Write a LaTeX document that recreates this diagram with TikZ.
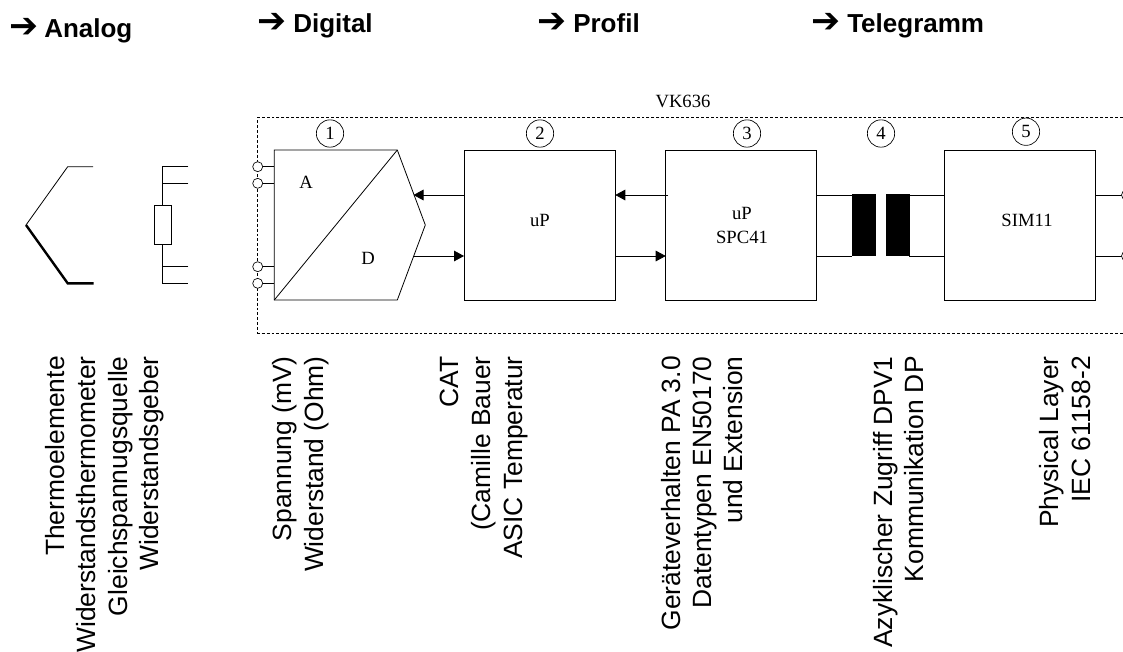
\documentclass[tikz,border=0pt]{standalone}
\usepackage{fontspec}
\setmainfont{Liberation Serif}
\newfontfamily\arialf{Liberation Sans}
\newfontfamily\arrowf{DejaVu Sans}
\usetikzlibrary{arrows.meta}
\tikzset{
 conn/.style={line width=0.6pt},
 blockbox/.style={draw,line width=0.6pt,minimum width=151*0.75pt,minimum height=150*0.75pt,inner sep=0pt},
 numc/.style={draw,circle,line width=0.5pt,minimum size=20.5pt,inner sep=0pt,font=\fontsize{14}{16}\selectfont},
 term/.style={draw,circle,fill=white,line width=0.5pt,minimum size=7.5pt,inner sep=0pt},
 head/.style={anchor=base west,inner sep=0pt,font=\arialf\bfseries\fontsize{19.5}{22}\selectfont},
 harrow/.style={anchor=base west,inner sep=0pt,font=\arrowf\bfseries\fontsize{26}{28}\selectfont},
 rot/.style={rotate=90,anchor=base east,inner sep=0pt,font=\arialf\fontsize{19.8}{24}\selectfont},
 ser/.style={inner sep=0pt,font=\fontsize{14}{16}\selectfont},
 arr/.style={-{Triangle[length=7.5pt,width=8pt]},line width=0.6pt},
 core/.style={draw,fill=black,inner sep=0pt}
}
\begin{document}
\begin{tikzpicture}[x=0.75pt,y=-0.75pt]
\useasboundingbox (0,0) rectangle (1123,651);
% headers
\node[harrow] (a1h) at (9,37) {➔};
\node[head] (h1) at (44,37) {Analog};
\node[harrow] (a2h) at (257,32) {➔};
\node[head] (h2) at (293,32) {Digital};
\node[harrow] (a3h) at (537,32) {➔};
\node[head] (h3) at (573,32) {Profil};
\node[harrow] (a4h) at (811,32) {➔};
\node[head] (h4) at (847,32) {Telegramm};
% VK636 frame
\coordinate (fa) at (1123,117.3);
\coordinate (fb) at (257.5,117.3);
\coordinate (fc) at (257.5,333);
\coordinate (fd) at (1123,333);
\draw[line width=0.5pt,dash pattern=on 2.2pt off 1.5pt] (fa) -- (fb) -- (fc) -- (fd);
\node[ser] (vk) at (683,101) {VK636};
% thermocouple
\coordinate (t1) at (93,166.7);
\coordinate (t2) at (67.7,166.7);
\coordinate (t3) at (26,225);
\coordinate (t4) at (67.7,283.3);
\coordinate (t5) at (93.5,283.3);
\draw[conn] (t1) -- (t2) -- (t3);
\draw[line width=1.8pt,line join=miter] (t3) -- (t4) -- (t5);
% resistor
\node[draw,line width=0.6pt,minimum width=12.75pt,minimum height=29.25pt,inner sep=0pt] (res) at (162.8,225.2) {};
\coordinate (r1) at (188.3,166.7);
\coordinate (r2) at (162.8,166.7);
\coordinate (r3) at (188.3,183.3);
\coordinate (r4) at (162.8,183.3);
\coordinate (r5) at (188.3,266.7);
\coordinate (r6) at (162.8,266.7);
\coordinate (r7) at (188.3,283.3);
\coordinate (r8) at (162.8,283.3);
\draw[conn] (r1) -- (r2) -- (res.north);
\draw[conn] (r3) -- (r4);
\draw[conn] (res.south) -- (r8) -- (r7);
\draw[conn] (r5) -- (r6);
% AD converter
\coordinate (a1) at (274.3,150);
\coordinate (a2) at (397.3,150);
\coordinate (a3) at (425.3,225);
\coordinate (a4) at (397.3,300);
\coordinate (a5) at (274.3,300);
\draw[conn] (a1) -- (a2) -- (a3) -- (a4) -- (a5) -- cycle;
\draw[conn] (a5) -- (a2);
\node[ser] (A) at (306,182) {A};
\node[ser] (D) at (368,258) {D};
% terminals
\coordinate (j1) at (274.3,166.7);
\coordinate (j2) at (274.3,183.3);
\coordinate (j3) at (274.3,266.7);
\coordinate (j4) at (274.3,283.3);
\node[term] (i1) at (257.7,166.7) {};
\node[term] (i2) at (257.7,183.3) {};
\node[term] (i3) at (257.7,266.7) {};
\node[term] (i4) at (257.7,283.3) {};
\draw[conn] (i1) -- (j1);
\draw[conn] (i2) -- (j2);
\draw[conn] (i3) -- (j3);
\draw[conn] (i4) -- (j4);
% blocks
\node[blockbox] (uP) at (539.7,225) {};
\node[blockbox] (spc) at (740.8,225) {};
\node[blockbox] (sim) at (1020.2,225) {};
\node[ser] (uPt) at (540,220) {uP};
\node[ser] (spct) at (742,213) {uP};
\node[ser] (spcu) at (742,237) {SPC41};
\node[ser] (simt) at (1027,220) {SIM11};
% numbers
\node[numc] (n1) at (330,133.5) {1};
\node[numc] (n2) at (540,133.5) {2};
\node[numc] (n3) at (747,133.5) {3};
\node[numc] (n4) at (881,133.5) {4};
\node[numc] (n5) at (1026,131.7) {5};
% connectors
\coordinate (ai) at (413.5,195);
\coordinate (ao) at (413.5,256);
\coordinate (ui) at (464,195);
\coordinate (uo) at (464,256);
\coordinate (uir) at (615.3,195);
\coordinate (uor) at (615.3,256);
\coordinate (si) at (668,195);
\coordinate (so) at (665.7,256);
\draw[arr] (ui) -- (ai);
\draw[arr] (ao) -- (uo);
\draw[arr] (si) -- (uir);
\draw[arr] (uor) -- (so);
% transformer
\node[core,minimum width=17pt,minimum height=45.7pt] (c1) at (863.8,225) {};
\node[core,minimum width=17pt,minimum height=45.7pt] (c2) at (897.5,225) {};
\coordinate (s1) at (816.2,195);
\coordinate (s2) at (816.2,256);
\coordinate (s3) at (945,195);
\coordinate (s4) at (945,256);
\coordinate (c1a) at (852,195);
\coordinate (c1b) at (852,256);
\coordinate (c2a) at (909,195);
\coordinate (c2b) at (909,256);
\draw[conn] (s1) -- (c1a);
\draw[conn] (s2) -- (c1b);
\draw[conn] (c2a) -- (s3);
\draw[conn] (c2b) -- (s4);
% output
\coordinate (o1) at (1122,195);
\coordinate (o2) at (1122,256);
\draw[conn] (o1 -| sim.east) -- (o1);
\draw[conn] (o2 -| sim.east) -- (o2);
\begin{scope}
\clip (1110,180) rectangle (1123,270);
\node[term] (o1c) at (1126.5,195) {};
\node[term] (o2c) at (1126.5,256) {};
\end{scope}
% rotated texts
\node[rot] (l1) at (64,356) {Thermoelemente};
\node[rot] (l1b) at (95.5,356) {Widerstandsthermometer};
\node[rot] (l1c) at (127,356) {Gleichspannugsquelle};
\node[rot] (l1d) at (158.5,356) {Widerstandsgeber};
\node[rot] (l2) at (291,356) {Spannung (mV)};
\node[rot] (l2b) at (323,356) {Widerstand (Ohm)};
\node[rot] (l3) at (458.5,356) {CAT};
\node[rot] (l3b) at (490.5,356) {(Camille Bauer};
\node[rot] (l3c) at (522.5,356) {ASIC Temperatur};
\node[rot] (l4) at (680,356) {Geräteverhalten PA 3.0};
\node[rot] (l4b) at (711.5,356) {Datentypen EN50170};
\node[rot] (l4c) at (742.5,356) {und Extension};
\node[rot] (l5) at (892,356) {Azyklischer Zugriff DPV1};
\node[rot] (l5b) at (923,356) {Kommunikation DP};
\node[rot] (l6) at (1058,356) {Physical Layer};
\node[rot] (l6b) at (1090,356) {IEC 61158-2};
\end{tikzpicture}
\end{document}
